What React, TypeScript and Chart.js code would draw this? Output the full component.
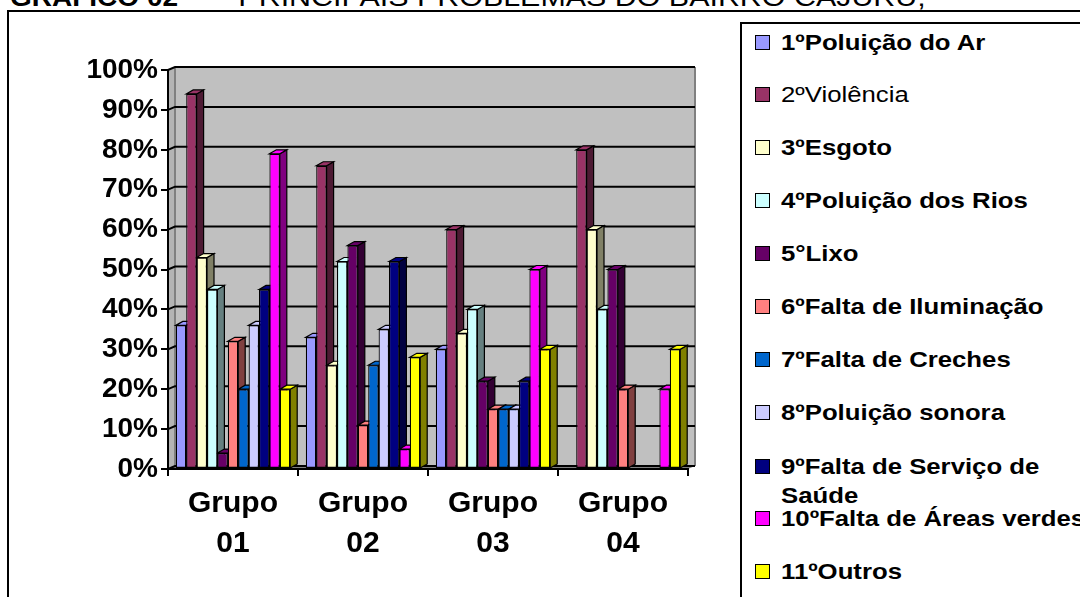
import React, { useEffect, useRef } from "react";
import { Chart, registerables } from "chart.js";

Chart.register(...registerables);

// ---------------- data ----------------
const categories: string[][] = [
  ["Grupo", "01"],
  ["Grupo", "02"],
  ["Grupo", "03"],
  ["Grupo", "04"],
];

const seriesLabels: string[] = [
  "1ºPoluição do Ar",
  "2ºViolência",
  "3ºEsgoto",
  "4ºPoluição dos Rios",
  "5°Lixo",
  "6ºFalta de Iluminação",
  "7ºFalta de Creches",
  "8ºPoluição sonora",
  "9ºFalta de Serviço de Saúde",
  "10ºFalta de Áreas verdes",
  "11ºOutros",
];

const poluicaoAr = [36, 33, 30, 0];
const violencia = [94, 76, 60, 80];
const esgoto = [53, 26, 34, 60];
const poluicaoRios = [45, 52, 40, 40];
const lixo = [4, 56, 22, 50];
const faltaIluminacao = [32, 11, 15, 20];
const faltaCreches = [20, 26, 15, 0];
const poluicaoSonora = [36, 35, 15, 0];
const faltaSaude = [45, 52, 22, 0];
const faltaAreasVerdes = [79, 5, 50, 20];
const outros = [20, 28, 30, 30];

const yTickValues = [0, 10, 20, 30, 40, 50, 60, 70, 80, 90, 100];

const seriesValues = [
  poluicaoAr,
  violencia,
  esgoto,
  poluicaoRios,
  lixo,
  faltaIluminacao,
  faltaCreches,
  poluicaoSonora,
  faltaSaude,
  faltaAreasVerdes,
  outros,
];

// ---------------- style ----------------
const seriesColors = [
  "#9999FF",
  "#993366",
  "#FFFFCC",
  "#CCFFFF",
  "#660066",
  "#FF8080",
  "#0066CC",
  "#CCCCFF",
  "#000080",
  "#FF00FF",
  "#FFFF00",
];

const FONT = "'Liberation Sans', Arial, Helvetica, sans-serif";

function shade(hex: string, f: number): string {
  const n = parseInt(hex.slice(1), 16);
  const r = Math.round(((n >> 16) & 255) * f);
  const g = Math.round(((n >> 8) & 255) * f);
  const b = Math.round((n & 255) * f);
  return `rgb(${r},${g},${b})`;
}

function poly(ctx: CanvasRenderingContext2D, pts: number[][], fill: string) {
  ctx.beginPath();
  ctx.moveTo(pts[0][0], pts[0][1]);
  for (let i = 1; i < pts.length; i++) ctx.lineTo(pts[i][0], pts[i][1]);
  ctx.closePath();
  ctx.fillStyle = fill;
  ctx.fill();
  ctx.stroke();
}

const WALL_DX = 7;
const WALL_DY = 3;
const BAR_DX = 7;
const BAR_DY = 4;

const threeDPlugin = {
  id: "threeD",
  beforeDraw(chart: any) {
    const ctx: CanvasRenderingContext2D = chart.ctx;
    const { left: L, right: R, top: T, bottom: B } = chart.chartArea;
    const y = chart.scales.y;
    ctx.save();
    // back wall
    ctx.fillStyle = "#C0C0C0";
    ctx.fillRect(L + WALL_DX, T - WALL_DY, R - L, B - T);
    // side wall
    ctx.beginPath();
    ctx.moveTo(L, T);
    ctx.lineTo(L + WALL_DX, T - WALL_DY);
    ctx.lineTo(L + WALL_DX, B - WALL_DY);
    ctx.lineTo(L, B);
    ctx.closePath();
    ctx.fillStyle = "#B4B4B4";
    ctx.fill();
    // floor
    ctx.beginPath();
    ctx.moveTo(L, B);
    ctx.lineTo(L + WALL_DX, B - WALL_DY);
    ctx.lineTo(R + WALL_DX, B - WALL_DY);
    ctx.lineTo(R, B);
    ctx.closePath();
    ctx.fillStyle = "#808080";
    ctx.fill();
    // wall edges
    ctx.strokeStyle = "#808080";
    ctx.lineWidth = 2;
    ctx.beginPath();
    ctx.moveTo(R + WALL_DX, T - WALL_DY);
    ctx.lineTo(R + WALL_DX, B - WALL_DY);
    ctx.moveTo(L + WALL_DX, T - WALL_DY);
    ctx.lineTo(L + WALL_DX, B - WALL_DY);
    ctx.stroke();
    // gridlines on side + back wall
    ctx.strokeStyle = "#000";
    ctx.lineWidth = 2;
    for (const v of yTickValues) {
      const py = y.getPixelForValue(v);
      ctx.beginPath();
      ctx.moveTo(L, py);
      ctx.lineTo(L + WALL_DX, py - WALL_DY);
      ctx.lineTo(R + WALL_DX, py - WALL_DY);
      ctx.stroke();
    }
    ctx.restore();
  },
  beforeDatasetsDraw(chart: any) {
    const ctx: CanvasRenderingContext2D = chart.ctx;
    ctx.save();
    ctx.lineWidth = 1.2;
    ctx.strokeStyle = "#000";
    ctx.lineJoin = "miter";
    chart.data.datasets.forEach((ds: any, di: number) => {
      const meta = chart.getDatasetMeta(di);
      const col = seriesColors[di];
      meta.data.forEach((el: any, i: number) => {
        const v = ds.data[i];
        if (!v) return;
        const { x, y, base, width } = el;
        const l = x - width / 2;
        const r = x + width / 2;
        poly(ctx, [[r, y], [r + BAR_DX, y - BAR_DY], [r + BAR_DX, base - BAR_DY], [r, base]], shade(col, 0.5));
        poly(ctx, [[l, y], [l + BAR_DX, y - BAR_DY], [r + BAR_DX, y - BAR_DY], [r, y]], col);
      });
    });
    ctx.restore();
  },
};

// legend layout (row centres)
const legendRows = [42, 94, 147, 200, 253, 306, 359, 412, 466, 518, 571];

export default function App() {
  const canvasRef = useRef<HTMLCanvasElement | null>(null);

  useEffect(() => {
    const canvas = canvasRef.current;
    if (!canvas) return;
    const chart = new Chart(canvas, {
      type: "bar",
      data: {
        labels: categories as any,
        datasets: seriesValues.map((vals, i) => ({
          label: seriesLabels[i],
          data: vals,
          backgroundColor: seriesColors[i],
          borderColor: "#000",
          borderWidth: 1.2,
          borderSkipped: false,
          barPercentage: 1,
          categoryPercentage: 0.88,
        })),
      },
      options: {
        responsive: false,
        animation: false,
        devicePixelRatio: 1,
        layout: { padding: { left: 0, top: 70, right: 392, bottom: 0 } },
        plugins: {
          legend: { display: false },
          tooltip: { enabled: false },
          title: { display: false },
        },
        scales: {
          x: {
            type: "category",
            offset: true,
            grid: {
              offset: true,
              drawOnChartArea: false,
              drawTicks: true,
              tickLength: 7,
              tickColor: "#000",
              lineWidth: 2,
            },
            border: { display: true, color: "#000", width: 2 },
            ticks: {
              color: "#000",
              padding: 8,
              maxRotation: 0,
              autoSkip: false,
              font: { family: FONT, size: 30, weight: "bold", lineHeight: 1.333 },
            },
            afterFit: (s: any) => {
              s.height = 128;
            },
          },
          y: {
            min: 0,
            max: 100,
            grid: {
              drawOnChartArea: false,
              drawTicks: true,
              tickLength: 7,
              tickColor: "#000",
              lineWidth: 2,
            },
            border: { display: true, color: "#000", width: 2 },
            ticks: {
              stepSize: 10,
              color: "#000",
              padding: 3,
              font: { family: FONT, size: 28, weight: "bold" },
              callback: (v: any) => `${v}%`,
            },
            afterFit: (s: any) => {
              s.width = 168;
            },
          },
        },
      } as any,
      plugins: [threeDPlugin],
    });
    return () => chart.destroy();
  }, []);

  return (
    <div
      style={{
        position: "absolute",
        left: 0,
        top: 0,
        width: 1080,
        height: 597,
        overflow: "hidden",
        background: "#fff",
        fontFamily: FONT,
      }}
    >
      {/* title (cut off at the top) */}
      <div
        style={{
          position: "absolute",
          left: 10,
          top: -18,
          height: 30,
          lineHeight: "30px",
          fontSize: 26,
          fontWeight: "bold",
          whiteSpace: "nowrap",
          transform: "scaleX(1.077)",
          transformOrigin: "0 50%",
          color: "#000",
        }}
      >
        GRÁFICO 02
      </div>
      <div
        style={{
          position: "absolute",
          left: 213,
          top: -18,
          height: 30,
          lineHeight: "30px",
          fontSize: 26,
          fontWeight: "normal",
          whiteSpace: "nowrap",
          transform: "scaleX(1.17)",
          transformOrigin: "0 50%",
          color: "#000",
        }}
      >
        – PRINCIPAIS PROBLEMAS DO BAIRRO CAJURU;
      </div>

      {/* outer chart frame */}
      <div
        style={{
          position: "absolute",
          left: 7,
          top: 10,
          width: 1200,
          height: 800,
          border: "2px solid #000",
          boxSizing: "border-box",
        }}
      />

      <canvas
        ref={canvasRef}
        width={1080}
        height={597}
        style={{ position: "absolute", left: 0, top: 0, width: 1080, height: 597, display: "block" }}
      />

      {/* legend */}
      <div
        style={{
          position: "absolute",
          left: 740,
          top: 22,
          width: 500,
          height: 800,
          border: "2px solid #000",
          boxSizing: "border-box",
          background: "#fff",
        }}
      />
      {seriesLabels.map((lab, i) => {
        const cy = legendRows[i];
        const isWrapped = i === 8;
        return (
          <React.Fragment key={lab}>
            <div
              style={{
                position: "absolute",
                left: 755,
                top: cy - 7.5,
                width: 15,
                height: 15,
                boxSizing: "border-box",
                border: "1.5px solid #000",
                background: seriesColors[i],
              }}
            />
            <div
              style={{
                position: "absolute",
                left: 781,
                top: cy - 14.5,
                lineHeight: "29px",
                fontSize: 22,
                fontWeight: i === 1 ? "normal" : "bold",
                whiteSpace: "nowrap",
                transform: "scaleX(1.17)",
                transformOrigin: "0 0",
                color: "#000",
              }}
            >
              {isWrapped ? (
                <>
                  9ºFalta de Serviço de
                  <br />
                  Saúde
                </>
              ) : (
                lab
              )}
            </div>
          </React.Fragment>
        );
      })}
    </div>
  );
}
